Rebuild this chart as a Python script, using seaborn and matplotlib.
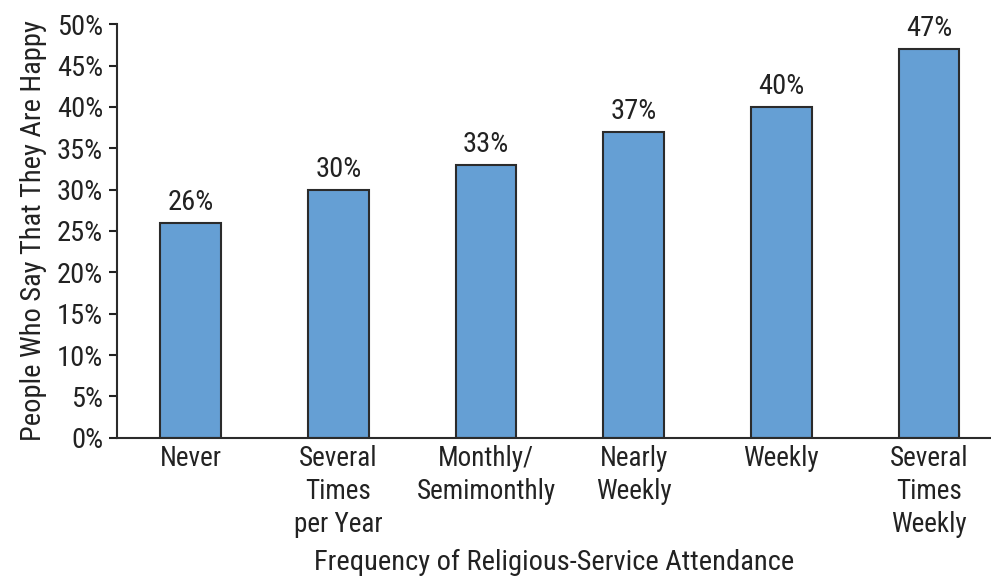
import matplotlib
matplotlib.use("Agg")
import matplotlib.pyplot as plt
import seaborn as sns
import pandas as pd
from matplotlib.ticker import PercentFormatter

categories = ["Never", "Several\nTimes\nper Year", "Monthly/\nSemimonthly",
              "Nearly\nWeekly", "Weekly", "Several\nTimes\nWeekly"]
happy_pct = [26, 30, 33, 37, 40, 47]

df = pd.DataFrame({"attendance": categories, "happy": happy_pct})

sns.set_theme(style="ticks")
plt.rcParams["font.family"] = ["Roboto Condensed", "DejaVu Sans"]
plt.rcParams["text.color"] = "#222222"
plt.rcParams["axes.labelcolor"] = "#222222"
plt.rcParams["xtick.color"] = "#222222"
plt.rcParams["ytick.color"] = "#222222"

fig = plt.figure(figsize=(9.91, 5.76), dpi=100)
ax = fig.add_axes([0.118, 0.24, 0.882, 0.718])

sns.barplot(data=df, x="attendance", y="happy", color="#659fd4",
            saturation=1, width=0.41, edgecolor="#2b2b2b", linewidth=1.5, ax=ax)

ax.bar_label(ax.containers[0], labels=[f"{v}%" for v in happy_pct],
             padding=5, fontsize=20.5)

ax.set_ylim(0, 50)
ax.set_yticks(range(0, 51, 5))
ax.yaxis.set_major_formatter(PercentFormatter(decimals=0))
ax.set_xlim(-0.5, 5.42)

ax.tick_params(axis="y", labelsize=20.5, length=6, width=1.5, pad=4)
ax.tick_params(axis="x", labelsize=19.5, length=0, pad=5)
for lbl in ax.get_xticklabels():
    lbl.set_linespacing(1.3)

for s in ["top", "right"]:
    ax.spines[s].set_visible(False)
for s in ["left", "bottom"]:
    ax.spines[s].set_linewidth(1.5)
    ax.spines[s].set_color("#2b2b2b")

ax.set_ylabel("People Who Say That They Are Happy", fontsize=20.5, labelpad=7)
ax.set_xlabel("Frequency of Religious-Service Attendance", fontsize=20.5, labelpad=8)

fig.savefig("out.png", dpi=100)
